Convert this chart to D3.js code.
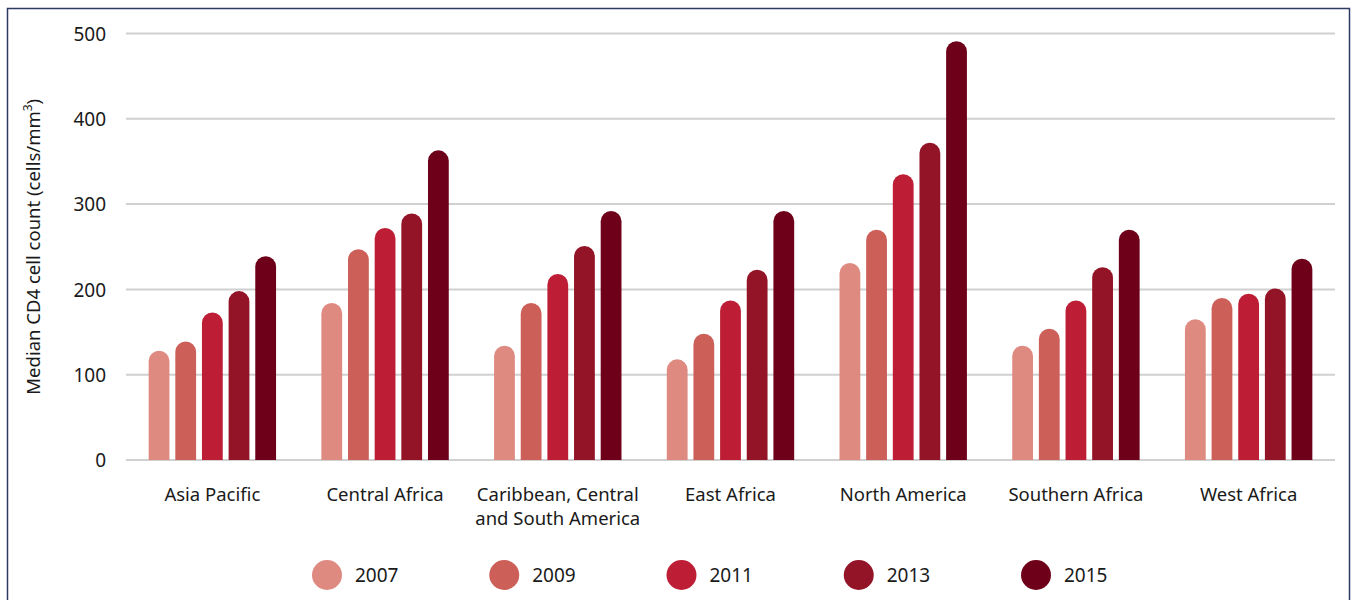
<!DOCTYPE html>
<html>
<head>
<meta charset="utf-8">
<script src="https://cdn.jsdelivr.net/npm/d3@7"></script>
<style>
  html, body { margin: 0; padding: 0; background: #fff; }
  body { width: 1354px; height: 600px; overflow: hidden; font-family: "Noto Sans", "Open Sans", sans-serif; }
  .grid line { stroke: #d0d0d0; stroke-width: 2; }
  .tick text { fill: #1a1a1a; }
</style>
</head>
<body>
<div id="chart"></div>
<script>
// Median CD4 count at presentation, by region and year
const regions = ["Asia Pacific", "Central Africa", "Caribbean, Central\nand South America",
  "East Africa", "North America", "Southern Africa", "West Africa"];
const years = ["2007", "2009", "2011", "2013", "2015"];
const v2007 = [128, 184, 134, 118, 231, 134, 165];
const v2009 = [139, 247, 184, 148, 270, 154, 190];
const v2011 = [173, 272, 218, 187, 335, 187, 195];
const v2013 = [198, 289, 251, 223, 372, 226, 201];
const v2015 = [239, 363, 292, 292, 491, 270, 236];
const yTicks = [0, 100, 200, 300, 400, 500];
const colors = ["#df8a80", "#cd5f59", "#bd1e36", "#931327", "#6e001a"];

const series = [v2007, v2009, v2011, v2013, v2015];

const W = 1354, H = 600;
const margin = { top: 33.5, left: 126, right: 19, bottom: 140 };

const svg = d3.select("#chart").append("svg")
  .attr("width", W).attr("height", H);

// frame
svg.append("rect")
  .attr("x", 7.5).attr("y", 8.5)
  .attr("width", 1342).attr("height", 620)
  .attr("fill", "none").attr("stroke", "#2c3a64").attr("stroke-width", 1.5);

const x0 = d3.scaleBand().domain(regions).range([margin.left, W - margin.right]).padding(0);
const x1 = d3.scaleBand().domain(years)
  .range([0, x0.bandwidth()]).paddingInner(0.22).paddingOuter(0.85);
const y = d3.scaleLinear().domain([0, 500]).range([460, margin.top]);

// grid
svg.append("g").attr("class", "grid")
  .selectAll("line").data(yTicks).join("line")
  .attr("x1", margin.left).attr("x2", W - margin.right)
  .attr("y1", d => y(d)).attr("y2", d => y(d));

// y axis labels
const yAxis = svg.append("g")
  .attr("transform", `translate(${margin.left - 20},0)`)
  .call(d3.axisLeft(y).tickValues(yTicks).tickSize(0).tickPadding(0));
yAxis.select(".domain").remove();
yAxis.selectAll("text").attr("font-size", 19).attr("font-family", "Noto Sans, sans-serif")
  .attr("dy", "0.35em");

// y title
const yt = svg.append("text")
  .attr("transform", `translate(40,${(y(0) + y(500)) / 2}) rotate(-90)`)
  .attr("text-anchor", "middle").attr("font-size", 18.5).attr("fill", "#1a1a1a");
yt.append("tspan").text("Median CD4 cell count (cells/mm");
yt.append("tspan").text("3").attr("font-size", 12).attr("dy", -8);
yt.append("tspan").text(")").attr("dy", 8);

// bars with rounded tops
const bw = x1.bandwidth();
const r = bw / 2;
function barPath(x, top, bottom) {
  const h = bottom - top;
  const rr = Math.min(r, h);
  return `M${x},${bottom}V${top + rr}A${rr},${rr} 0 0 1 ${x + bw},${top + rr}V${bottom}Z`;
}

const groups = svg.append("g").selectAll("g").data(regions).join("g")
  .attr("transform", d => `translate(${x0(d)},0)`);

groups.selectAll("path")
  .data((d, i) => years.map((yr, j) => ({ yr, v: series[j][i], c: colors[j] })))
  .join("path")
  .attr("d", d => barPath(x1(d.yr), y(d.v), y(0)))
  .attr("fill", d => d.c);

// category labels
svg.append("g").selectAll("text").data(regions).join("text")
  .attr("x", d => x0(d) + x0.bandwidth() / 2)
  .attr("y", 501)
  .attr("text-anchor", "middle").attr("font-size", 18.5).attr("fill", "#1a1a1a")
  .each(function (d) {
    const lines = d.split("\n");
    d3.select(this).selectAll("tspan").data(lines).join("tspan")
      .attr("x", x0(d) + x0.bandwidth() / 2)
      .attr("dy", (l, i) => i === 0 ? 0 : 24)
      .text(l => l);
  });

// legend
const legX = d3.scalePoint().domain(years).range([327, 1036]);
const leg = svg.append("g").selectAll("g").data(years).join("g")
  .attr("transform", d => `translate(${legX(d)},575)`);
leg.append("circle").attr("r", 15).attr("fill", (d, i) => colors[i]);
leg.append("text").attr("x", 28).attr("dy", "0.35em")
  .attr("font-size", 19).attr("fill", "#1a1a1a").text(d => d);
</script>
</body>
</html>
